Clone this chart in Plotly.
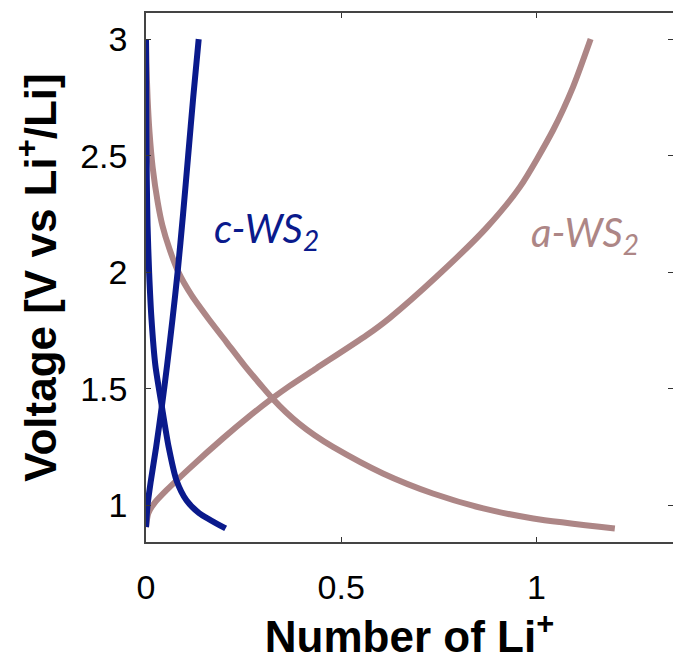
import plotly.graph_objects as go

# c-WS2 discharge (navy)
c_dis_v = [3.0, 2.8, 2.6, 2.4, 2.2, 2.0, 1.8, 1.6, 1.43, 1.25, 1.107, 1.02, 0.966, 0.90]
c_dis_x = [0.0, 0.0005, 0.001, 0.002, 0.004, 0.008, 0.014, 0.024, 0.040, 0.058, 0.078, 0.104, 0.136, 0.204]
# c-WS2 charge (navy)
c_chg_v = [0.906, 1.0, 1.1, 1.25, 1.43, 1.6, 1.8, 2.0, 2.25, 2.5, 2.75, 3.0]
c_chg_x = [0.0, 0.004, 0.012, 0.026, 0.041, 0.054, 0.068, 0.081, 0.095, 0.108, 0.121, 0.135]
# a-WS2 discharge (mauve)
a_dis_v = [3.0, 2.9, 2.75, 2.6, 2.45, 2.3, 2.2, 2.1, 2.0, 1.9, 1.8, 1.7, 1.6, 1.5, 1.454, 1.40, 1.35, 1.30, 1.25, 1.136, 1.05, 0.986, 0.943, 0.90]
a_dis_x = [0.0, 0.001, 0.004, 0.009, 0.017, 0.030, 0.042, 0.060, 0.083, 0.117, 0.160, 0.206, 0.252, 0.302, 0.326, 0.358, 0.392, 0.432, 0.479, 0.607, 0.735, 0.864, 0.992, 1.201]
# a-WS2 charge (mauve)
a_chg_x = [0.0, 0.006, 0.022, 0.05, 0.11, 0.2, 0.265, 0.324, 0.368, 0.436, 0.565, 0.624, 0.744, 0.872, 0.958, 1.043, 1.094, 1.139]
a_chg_v = [0.906, 0.966, 1.01, 1.06, 1.156, 1.291, 1.382, 1.459, 1.512, 1.587, 1.729, 1.803, 1.98, 2.19, 2.366, 2.61, 2.795, 3.0]

x_ticks = [0, 0.5, 1]
x_tick_text = ["0", "0.5", "1"]
y_ticks = [1, 1.5, 2, 2.5, 3]
y_tick_text = ["1", "1.5", "2", "2.5", "3"]

NAVY = "#0A1A8C"
MAUVE = "#AD8686"
FONT = "Liberation Sans, Arial, sans-serif"
ANN_FONT = "Lato, Open Sans, sans-serif"

fig = go.Figure()
for xs, vs, col in [(a_dis_x, a_dis_v, MAUVE), (a_chg_x, a_chg_v, MAUVE),
                    (c_dis_x, c_dis_v, NAVY), (c_chg_x, c_chg_v, NAVY)]:
    fig.add_trace(go.Scatter(x=xs, y=vs, mode="lines",
                             line=dict(color=col, width=6, shape="spline", smoothing=0.7),
                             showlegend=False, hoverinfo="skip"))
# placeholder trace so the mirrored right y axis is drawn
fig.add_trace(go.Scatter(x=[None], y=[None], yaxis="y2", showlegend=False, hoverinfo="skip"))

YR = [0.842, 3.112]
fig.update_layout(
    width=673, height=664,
    margin=dict(l=146, r=0, t=13, b=122),
    plot_bgcolor="white", paper_bgcolor="white",
    font=dict(family=FONT, color="black"),
    xaxis=dict(range=[0, 1.35], tickvals=x_ticks, ticktext=x_tick_text,
               ticks="inside", ticklen=5, tickcolor="#333", showgrid=False, zeroline=False,
               showline=True, linecolor="#444", linewidth=1.5, mirror="ticks",
               tickfont=dict(size=34, family=FONT), ticklabelstandoff=14,
               title=dict(text="<b>Number of Li<sup>+</sup></b>", font=dict(size=44, family=FONT), standoff=14)),
    yaxis=dict(range=YR, tickvals=y_ticks, ticktext=y_tick_text,
               ticks="inside", ticklen=5, tickcolor="#333", showgrid=False, zeroline=False,
               showline=True, linecolor="#444", linewidth=1.5,
               tickfont=dict(size=34, family=FONT), ticklabelstandoff=10,
               title=dict(text="<b>Voltage [V vs Li<sup>+</sup>/Li]</b>", font=dict(size=44, family=FONT), standoff=10)),
    yaxis2=dict(range=YR, tickvals=y_ticks, overlaying="y", side="right", anchor="x",
                ticks="inside", ticklen=5, tickcolor="#333", showticklabels=False,
                showgrid=False, zeroline=False, showline=False),
)

fig.add_annotation(x=0.168, y=2.18, xref="x", yref="y", xanchor="left", yanchor="middle",
                   text="<i>c-WS<sub>2</sub></i>", showarrow=False,
                   font=dict(family=ANN_FONT, size=40, color=NAVY))
fig.add_annotation(x=0.98, y=2.16, xref="x", yref="y", xanchor="left", yanchor="middle",
                   text="<i>a-WS<sub>2</sub></i>", showarrow=False,
                   font=dict(family=ANN_FONT, size=40, color=MAUVE))

fig.write_html("out.html")
